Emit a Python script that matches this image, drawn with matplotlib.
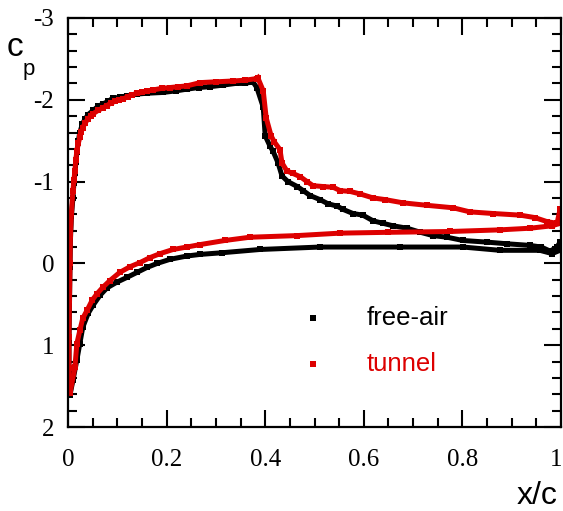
import numpy as np
import matplotlib
matplotlib.use('Agg')
import matplotlib.pyplot as plt
import matplotlib.transforms as mtransforms
from matplotlib.ticker import MultipleLocator

plt.rcParams['axes.unicode_minus'] = False

# free-air, upper surface (from stagnation point to trailing edge)
free_up_x = [0.004, 0.002, 0.002, 0.003, 0.004, 0.005, 0.007, 0.010, 0.012, 0.014,
             0.016, 0.018, 0.021, 0.024, 0.029, 0.034, 0.041, 0.051, 0.061, 0.071,
             0.081, 0.091, 0.105, 0.120, 0.140, 0.160, 0.193, 0.220, 0.241, 0.265,
             0.288, 0.315, 0.340, 0.359, 0.375, 0.383, 0.396, 0.400, 0.410, 0.416,
             0.426, 0.434, 0.446, 0.465, 0.477, 0.491, 0.511, 0.527, 0.546, 0.558,
             0.578, 0.598, 0.619, 0.639, 0.659, 0.688, 0.715, 0.740, 0.769, 0.801,
             0.850, 0.890, 0.937, 0.960, 0.978, 0.992, 0.998]
free_up_cp = [1.61, 1.35, 0.95, 0.50, 0.05, -0.30, -0.58, -0.80, -0.98, -1.10,
              -1.24, -1.36, -1.50, -1.60, -1.70, -1.76, -1.82, -1.87, -1.92, -1.95,
              -1.98, -2.02, -2.03, -2.05, -2.07, -2.08, -2.09, -2.11, -2.13, -2.15,
              -2.16, -2.18, -2.20, -2.20, -2.22, -2.15, -1.91, -1.56, -1.43, -1.37,
              -1.23, -1.07, -1.00, -0.94, -0.89, -0.83, -0.78, -0.73, -0.70, -0.66,
              -0.61, -0.59, -0.52, -0.49, -0.46, -0.43, -0.38, -0.34, -0.32, -0.28,
              -0.26, -0.24, -0.22, -0.20, -0.15, -0.20, -0.26]

# free-air, lower surface
free_lo_x = [0.004, 0.010, 0.018, 0.024, 0.030, 0.041, 0.051, 0.065, 0.079, 0.099,
             0.120, 0.140, 0.160, 0.181, 0.207, 0.241, 0.268, 0.312, 0.389, 0.511,
             0.673, 0.801, 0.876, 0.957, 0.982, 0.998]
free_lo_cp = [1.61, 1.43, 1.18, 0.98, 0.78, 0.61, 0.51, 0.39, 0.30, 0.23,
              0.17, 0.11, 0.05, 0.00, -0.05, -0.09, -0.11, -0.13, -0.17, -0.20,
              -0.20, -0.20, -0.16, -0.16, -0.12, -0.16]

# tunnel, upper surface
tun_up_x = [0.004, 0.002, 0.002, 0.003, 0.004, 0.005, 0.007, 0.010, 0.012, 0.014,
            0.016, 0.018, 0.021, 0.024, 0.027, 0.030, 0.035, 0.041, 0.046, 0.051,
            0.061, 0.070, 0.079, 0.087, 0.095, 0.103, 0.112, 0.121, 0.130, 0.140,
            0.150, 0.161, 0.172, 0.190, 0.207, 0.224, 0.241, 0.268, 0.300, 0.335,
            0.360, 0.383, 0.385, 0.396, 0.402, 0.412, 0.418, 0.430, 0.434, 0.444,
            0.456, 0.471, 0.485, 0.497, 0.517, 0.538, 0.552, 0.572, 0.592, 0.619,
            0.643, 0.680, 0.728, 0.781, 0.815, 0.862, 0.917, 0.947, 0.972, 0.992,
            0.998]
tun_up_cp = [1.59, 1.28, 0.90, 0.45, 0.00, -0.35, -0.62, -0.89, -1.02, -1.13,
             -1.27, -1.38, -1.47, -1.54, -1.61, -1.66, -1.72, -1.77, -1.80, -1.83,
             -1.87, -1.90, -1.93, -1.96, -1.98, -2.00, -2.01, -2.04, -2.06, -2.08,
             -2.09, -2.11, -2.12, -2.14, -2.15, -2.16, -2.17, -2.21, -2.22, -2.23,
             -2.24, -2.26, -2.27, -2.11, -1.78, -1.56, -1.49, -1.39, -1.23, -1.13,
             -1.10, -1.06, -1.00, -0.95, -0.94, -0.93, -0.89, -0.88, -0.85, -0.80,
             -0.78, -0.74, -0.71, -0.68, -0.63, -0.61, -0.59, -0.56, -0.51, -0.49,
             -0.66]

# tunnel, lower surface
tun_lo_x = [0.004, 0.014, 0.018, 0.024, 0.030, 0.039, 0.049, 0.059, 0.071, 0.085,
            0.105, 0.126, 0.146, 0.166, 0.187, 0.213, 0.241, 0.268, 0.318, 0.369,
            0.465, 0.552, 0.649, 0.775, 0.876, 0.937, 0.982, 0.998]
tun_lo_cp = [1.59, 1.27, 0.98, 0.82, 0.67, 0.57, 0.45, 0.37, 0.29, 0.21,
             0.11, 0.04, -0.01, -0.07, -0.12, -0.17, -0.20, -0.23, -0.28, -0.32,
             -0.34, -0.37, -0.38, -0.39, -0.41, -0.43, -0.46, -0.49]

x_ticks = [0, 0.2, 0.4, 0.6, 0.8, 1]
x_tick_labels = ['0', '0.2', '0.4', '0.6', '0.8', '1']
y_ticks = [-3, -2, -1, 0, 1, 2]
y_tick_labels = ['-3', '-2', '-1', '0', '1', '2']

red = '#dd0000'

fig = plt.figure(figsize=(5.63, 5.11), dpi=100)
ax = fig.add_axes([68/563, 1-427/511, (561-68)/563, (427-18)/511])

for xs, ys, c in [(free_up_x, free_up_cp, 'black'), (free_lo_x, free_lo_cp, 'black'),
                  (tun_up_x, tun_up_cp, red), (tun_lo_x, tun_lo_cp, red)]:
    ax.plot(xs, ys, color=c, lw=3.6, marker='s', ms=3.8, mew=0,
            solid_joinstyle='miter', solid_capstyle='butt')

ax.set_xlim(0, 1)
ax.set_ylim(2, -3)
ax.set_xticks(x_ticks)
ax.set_xticklabels(x_tick_labels, family='Liberation Serif', fontsize=18)
ax.set_yticks(y_ticks)
ax.set_yticklabels(y_tick_labels, family='Liberation Serif', fontsize=18)
ax.xaxis.set_minor_locator(MultipleLocator(0.05))
ax.yaxis.set_minor_locator(MultipleLocator(0.2))
ax.tick_params(which='both', direction='in', top=True, right=True, width=1.5)
ax.tick_params(which='major', length=12)
ax.tick_params(which='minor', length=6.5)
ax.tick_params(axis='x', which='major', pad=16)
ax.tick_params(axis='y', which='major', pad=10)
for s in ax.spines.values():
    s.set_linewidth(1.6)

# keep the "1" label inside the figure
last = ax.get_xticklabels()[-1]
last.set_transform(last.get_transform() +
                   mtransforms.ScaledTranslation(-5/100, 0, fig.dpi_scale_trans))

# legend
ax.plot([(313-68)/493], [(427-318)/409], transform=ax.transAxes, marker='s', ms=3.8,
        color='black', mew=0, clip_on=False)
fig.text(367/563, 1-318/511, 'free-air', fontsize=18.5, family='Liberation Sans',
         va='center', ha='left', color='black')
ax.plot([(313-68)/493], [(427-364)/409], transform=ax.transAxes, marker='s', ms=3.8,
        color=red, mew=0, clip_on=False)
fig.text(367/563, 1-364/511, 'tunnel', fontsize=18.5, family='Liberation Sans',
         va='center', ha='left', color=red)

# axis titles
fig.text(7/563, 1-48/511, 'c', fontsize=24, family='Liberation Sans', va='center', ha='left')
fig.text(23/563, 1-70/511, 'p', fontsize=16, family='Liberation Sans', va='center', ha='left')
fig.text(558/563, 1-496/511, 'x/c', fontsize=23, family='Liberation Sans', va='center', ha='right')

fig.savefig('out.png', dpi=100)
